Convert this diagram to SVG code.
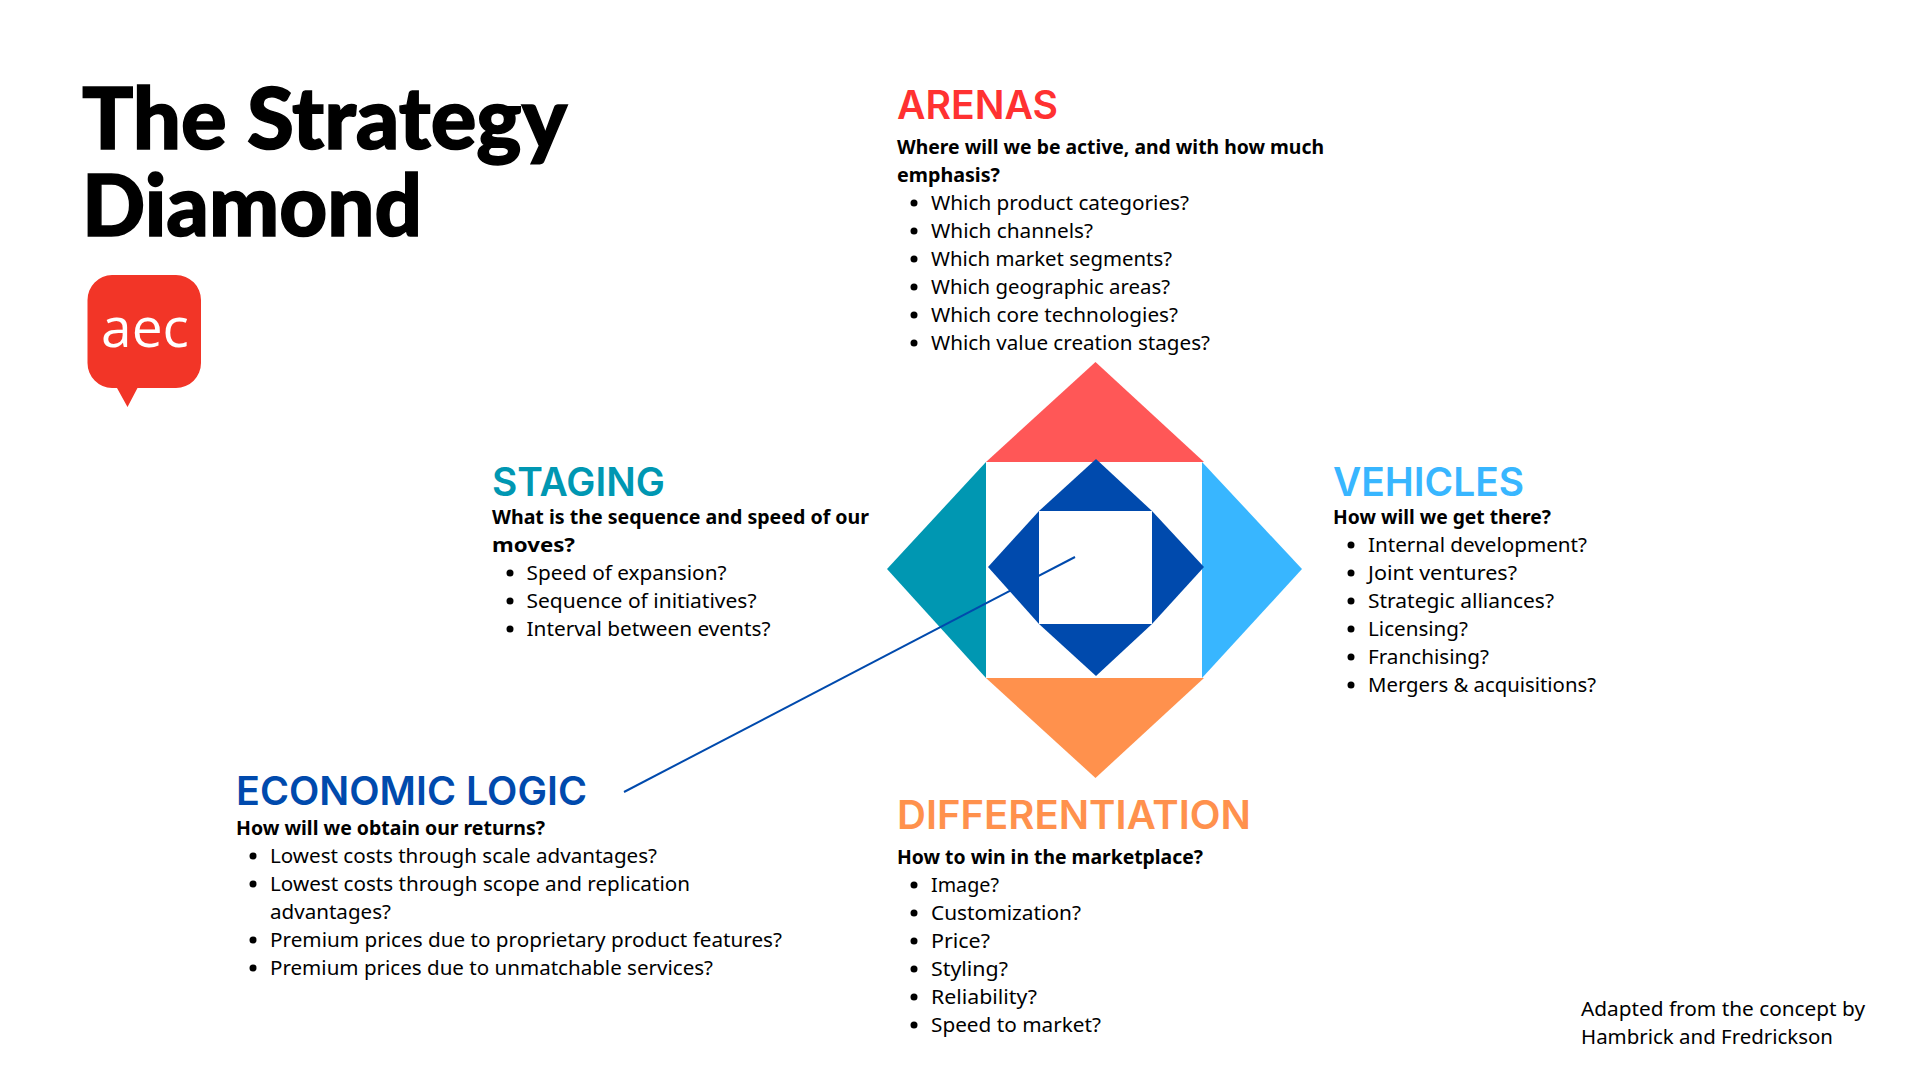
<svg xmlns="http://www.w3.org/2000/svg" width="1920" height="1080" viewBox="0 0 1920 1080">
<style>
text{font-family:"Noto Sans","Liberation Sans",sans-serif;fill:#000;}
.t{font-family:Lato,sans-serif;font-weight:900;font-size:86px;stroke:#000;stroke-width:1.500px}
.h{font-family:Inter,sans-serif;font-weight:600;font-size:39px}
.b{font-size:20px;font-weight:700}
.i{font-size:20.500px}
</style>
<rect width="1920" height="1080" fill="#fff"/>
<g id="title">
<text class="t"><tspan x="82" y="149" textLength="485" lengthAdjust="spacingAndGlyphs">The Strategy</tspan><tspan x="82" y="236" textLength="340" lengthAdjust="spacingAndGlyphs">Diamond</tspan></text>
</g>
<g id="logo">
<path d="M112 275H176A25 25 0 0 1 201 300V363A25 25 0 0 1 176 388H137.500L127.500 407L117 388H112A25 25 0 0 1 87.500 363V300A25 25 0 0 1 112 275Z" fill="#F23527"/>
<text x="145" y="347" text-anchor="middle" style="font-family:'Open Sans',sans-serif;font-size:55px;fill:#fff">aec</text>
</g>
<g id="diamond">
<polygon id="arenas-shape" points="1095.500,362 986,462 1204,462" fill="#FF5757"/>
<polygon id="staging-shape" points="887,569 986,462 986,678" fill="#0097B2"/>
<polygon id="vehicles-shape" points="1302,569 1202,462 1202,678" fill="#38B6FF"/>
<polygon id="differentiation-shape" points="1095.500,778 986,678 1204,678" fill="#FF914D"/>
</g>
<g id="connectors">
<line x1="624" y1="792" x2="1075" y2="557" stroke="#004AAD" stroke-width="2"/>
</g>
<g id="economic-shape" fill="#004AAD">
<polygon points="1096,459 1039,511 1152,511"/>
<polygon points="1096,676 1039,624 1152,624"/>
<polygon points="988,567 1039,511 1039,624"/>
<polygon points="1204,567 1152,511 1152,624"/>
</g>
<g id="arenas">
<text class="h" x="897" y="119" style="fill:#FF3131" textLength="161" lengthAdjust="spacingAndGlyphs">ARENAS</text>
<text class="b" x="897" y="154" textLength="427" lengthAdjust="spacingAndGlyphs">Where will we be active, and with how much</text>
<text class="b" x="897" y="182" textLength="103" lengthAdjust="spacingAndGlyphs">emphasis?</text>
<circle cx="914" cy="203" r="3.500"/><text class="i" x="931" y="210" textLength="258" lengthAdjust="spacingAndGlyphs">Which product categories?</text>
<circle cx="914" cy="231" r="3.500"/><text class="i" x="931" y="238" textLength="162" lengthAdjust="spacingAndGlyphs">Which channels?</text>
<circle cx="914" cy="259" r="3.500"/><text class="i" x="931" y="266" textLength="241" lengthAdjust="spacingAndGlyphs">Which market segments?</text>
<circle cx="914" cy="287" r="3.500"/><text class="i" x="931" y="294" textLength="239" lengthAdjust="spacingAndGlyphs">Which geographic areas?</text>
<circle cx="914" cy="315" r="3.500"/><text class="i" x="931" y="322" textLength="247" lengthAdjust="spacingAndGlyphs">Which core technologies?</text>
<circle cx="914" cy="343" r="3.500"/><text class="i" x="931" y="350" textLength="279" lengthAdjust="spacingAndGlyphs">Which value creation stages?</text>
</g>
<g id="staging">
<text class="h" x="492" y="496" style="fill:#0097B2" textLength="173" lengthAdjust="spacingAndGlyphs">STAGING</text>
<text class="b" x="492" y="524" textLength="377" lengthAdjust="spacingAndGlyphs">What is the sequence and speed of our</text>
<text class="b" x="492" y="552" textLength="83" lengthAdjust="spacingAndGlyphs">moves?</text>
<circle cx="510" cy="573" r="3.500"/><text class="i" x="526.500" y="580" textLength="200" lengthAdjust="spacingAndGlyphs">Speed of expansion?</text>
<circle cx="510" cy="601" r="3.500"/><text class="i" x="526.500" y="608" textLength="230" lengthAdjust="spacingAndGlyphs">Sequence of initiatives?</text>
<circle cx="510" cy="629" r="3.500"/><text class="i" x="526.500" y="636" textLength="244" lengthAdjust="spacingAndGlyphs">Interval between events?</text>
</g>
<g id="vehicles">
<text class="h" x="1333" y="496" style="fill:#38B6FF" textLength="191" lengthAdjust="spacingAndGlyphs">VEHICLES</text>
<text class="b" x="1333" y="524" textLength="218" lengthAdjust="spacingAndGlyphs">How will we get there?</text>
<circle cx="1351" cy="545" r="3.500"/><text class="i" x="1368" y="552" textLength="219" lengthAdjust="spacingAndGlyphs">Internal development?</text>
<circle cx="1351" cy="573" r="3.500"/><text class="i" x="1368" y="580" textLength="149" lengthAdjust="spacingAndGlyphs">Joint ventures?</text>
<circle cx="1351" cy="601" r="3.500"/><text class="i" x="1368" y="608" textLength="186" lengthAdjust="spacingAndGlyphs">Strategic alliances?</text>
<circle cx="1351" cy="629" r="3.500"/><text class="i" x="1368" y="636" textLength="100" lengthAdjust="spacingAndGlyphs">Licensing?</text>
<circle cx="1351" cy="657" r="3.500"/><text class="i" x="1368" y="664" textLength="121" lengthAdjust="spacingAndGlyphs">Franchising?</text>
<circle cx="1351" cy="685" r="3.500"/><text class="i" x="1368" y="692" textLength="228" lengthAdjust="spacingAndGlyphs">Mergers &amp; acquisitions?</text>
</g>
<g id="economic-logic">
<text class="h" x="236" y="805" style="fill:#004AAD" textLength="351" lengthAdjust="spacingAndGlyphs">ECONOMIC LOGIC</text>
<text class="b" x="236" y="835" textLength="309" lengthAdjust="spacingAndGlyphs">How will we obtain our returns?</text>
<circle cx="253" cy="856" r="3.500"/><text class="i" x="270" y="863" textLength="387" lengthAdjust="spacingAndGlyphs">Lowest costs through scale advantages?</text>
<circle cx="253" cy="884" r="3.500"/><text class="i" x="270" y="891" textLength="420" lengthAdjust="spacingAndGlyphs">Lowest costs through scope and replication</text>
<text class="i" x="270" y="919" textLength="121" lengthAdjust="spacingAndGlyphs">advantages?</text>
<circle cx="253" cy="940" r="3.500"/><text class="i" x="270" y="947" textLength="512" lengthAdjust="spacingAndGlyphs">Premium prices due to proprietary product features?</text>
<circle cx="253" cy="968" r="3.500"/><text class="i" x="270" y="975" textLength="443" lengthAdjust="spacingAndGlyphs">Premium prices due to unmatchable services?</text>
</g>
<g id="differentiation">
<text class="h" x="897" y="829" style="fill:#FF914D" textLength="354" lengthAdjust="spacingAndGlyphs">DIFFERENTIATION</text>
<text class="b" x="897" y="864" textLength="306" lengthAdjust="spacingAndGlyphs">How to win in the marketplace?</text>
<circle cx="914" cy="885" r="3.500"/><text class="i" x="931" y="892" textLength="68" lengthAdjust="spacingAndGlyphs">Image?</text>
<circle cx="914" cy="913" r="3.500"/><text class="i" x="931" y="920" textLength="150" lengthAdjust="spacingAndGlyphs">Customization?</text>
<circle cx="914" cy="941" r="3.500"/><text class="i" x="931" y="948" textLength="59" lengthAdjust="spacingAndGlyphs">Price?</text>
<circle cx="914" cy="969" r="3.500"/><text class="i" x="931" y="976" textLength="77" lengthAdjust="spacingAndGlyphs">Styling?</text>
<circle cx="914" cy="997" r="3.500"/><text class="i" x="931" y="1004" textLength="106" lengthAdjust="spacingAndGlyphs">Reliability?</text>
<circle cx="914" cy="1025" r="3.500"/><text class="i" x="931" y="1032" textLength="170" lengthAdjust="spacingAndGlyphs">Speed to market?</text>
</g>
<g id="credit">
<text class="i" x="1581" y="1016" textLength="284" lengthAdjust="spacingAndGlyphs">Adapted from the concept by</text>
<text class="i" x="1581" y="1044" textLength="252" lengthAdjust="spacingAndGlyphs">Hambrick and Fredrickson</text>
</g>
</svg>
